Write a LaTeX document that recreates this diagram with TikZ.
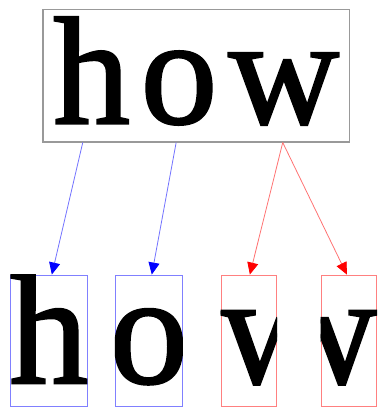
\documentclass[tikz,border=0pt]{standalone}
\usepackage{fontspec}
\setmainfont{Liberation Serif}
\newfontfamily\glyphfont{Liberation Serif}[FakeBold=1.6]
\usetikzlibrary{arrows.meta,calc}

\begin{document}
\begin{tikzpicture}[x=1pt,y=-1pt,>=Latex,
    glyph/.style={inner sep=0pt,outer sep=0pt,anchor=base,font=\glyphfont\fontsize{153}{153}\selectfont},
    bigglyph/.style={glyph,font=\glyphfont\fontsize{157}{157}\selectfont},
    part/.style={draw,line width=0.9pt,inner sep=0pt,minimum height=131.5pt},
    blueto/.style={->,blue!55,line width=0.8pt,>={Triangle[length=12pt,width=11pt,color=blue]}},
    redto/.style={->,red!55,line width=0.8pt,>={Triangle[length=12pt,width=11pt,color=red]}}]
    \useasboundingbox (0,0) rectangle (378,408);
    % the word
    \node[draw=black!40,line width=1.1pt,minimum width=306.5pt,minimum height=132.5pt] (word) at (196.25,75.75) {};
    \node[glyph] (lh) at (91.7,123.3) {h};
    \node[glyph] (lo) at (179,123.3) {o};
    \node[glyph] (lw) at (283.8,123.3) {w};
    % the pieces
    \node[part,draw=blue!50,minimum width=76.3pt] (bh) at (48.85,340.75) {};
    \node[part,draw=blue!50,minimum width=67pt] (bo) at (148.8,340.75) {};
    \node[part,draw=red!50,minimum width=55.7pt] (bwl) at (248.85,340.75) {};
    \node[part,draw=red!50,minimum width=55.7pt] (bwr) at (348.85,340.75) {};
    \begin{scope}
      \clip (bh.south west) rectangle (bh.north east);
      \node[bigglyph] (ph) at (48.85,383) {h};
    \end{scope}
    \begin{scope}
      \clip (bo.south west) rectangle (bo.north east);
      \node[bigglyph] (po) at (148.8,383) {o};
    \end{scope}
    \begin{scope}
      \clip (bwl.south west) rectangle (bwl.north east);
      \node[bigglyph] (pwl) at (277,383) {w};
    \end{scope}
    \begin{scope}
      \clip (bwr.south west) rectangle (bwr.north east);
      \node[bigglyph] (pwr) at (321,383) {w};
    \end{scope}
    % arrows
    \coordinate (fh) at ($(word.south west)+(40.3,0)$);
    \coordinate (fo) at ($(word.south west)+(133.7,0)$);
    \coordinate (fw) at ($(word.south west)+(240.3,0)$);
    \draw[blueto] (fh) -- ([xshift=3pt]bh.north);
    \draw[blueto] (fo) -- ([xshift=3pt]bo.north);
    \draw[redto] (fw) -- ([xshift=1pt]bwl.north);
    \draw[redto] (fw) -- ([xshift=-2pt]bwr.north);
  \end{tikzpicture}
\end{document}
